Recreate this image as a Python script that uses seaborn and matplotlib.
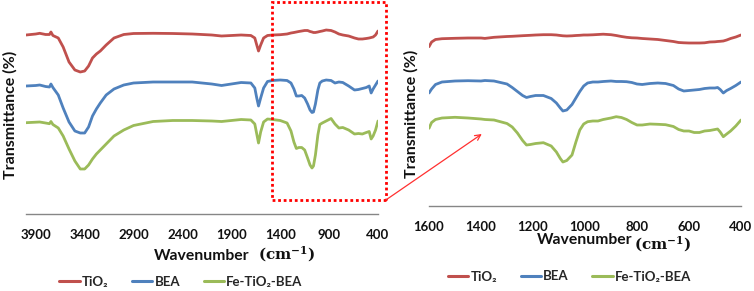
import numpy as np
import pandas as pd
import matplotlib
matplotlib.use("Agg")
import matplotlib.pyplot as plt
import seaborn as sns
from matplotlib.patches import Rectangle, ConnectionPatch
from matplotlib.lines import Line2D

# ---------------- data ----------------
series_names = ["TiO₂", "BEA", "Fe-TiO₂-BEA"]
series_colors = ["#C0504D", "#4F81BD", "#9BBB59"]

# full-range spectrum (left panel)
wn_full = [4000, 3900, 3860, 3800, 3760, 3745, 3725, 3670, 3620, 3560, 3500, 3445,
           3400, 3360, 3320, 3280, 3240, 3180, 3100, 3000, 2900, 2700, 2500, 2300,
           2100, 2000, 1900, 1800, 1700, 1660, 1640, 1622, 1600, 1570, 1530, 1480,
           1400, 1330, 1290, 1260, 1235, 1210, 1180, 1150, 1120, 1095, 1075, 1060,
           1040, 1015, 995, 970, 930, 880, 840, 800, 760, 700, 640, 600, 560, 520,
           490, 470, 450, 425, 400]
tio2_full = [179, 180, 180.7, 179.5, 179.5, 182, 178.5, 176, 167, 152, 144, 142,
             143, 148, 156, 160, 163, 169, 176, 179.5, 180.5, 180.7, 180.5, 180,
             179, 178, 178.5, 179, 178.5, 176, 169, 163, 169, 176, 178.5, 179,
             179.3, 180, 181, 181.5, 182, 182.5, 183, 183.5, 183.5, 182.5, 182, 181.5,
             181.5, 182, 182.5, 183, 184, 183.5, 182, 180, 179, 178, 176, 175, 175, 175.5,
             176, 176.5, 177, 179, 183]
bea_full = [128, 128.5, 129, 127.5, 127, 130, 126.5, 119, 106, 92, 83, 81,
            81, 87, 98, 105, 111, 119, 125, 129, 131, 132, 132, 132,
            130, 128.5, 130, 131.5, 131, 126, 116, 108, 116, 126, 132.5, 133.5,
            134, 133.5, 131, 125, 118, 118, 118.5, 116, 110, 104, 101.5, 102,
            110, 124, 131, 133, 134, 133.5, 131, 132, 131.5, 128, 124, 124.5, 125.5, 126.5,
            128, 121, 125, 129, 133]
fe_full = [91.3, 91.8, 92, 91, 90.3, 92.5, 89.5, 86, 78, 65, 53, 45,
           45, 49, 55, 60, 64, 70, 78, 84, 88.5, 92.5, 93.5, 93.5,
           93, 92.5, 93.5, 94.5, 94, 90, 80, 71, 82, 92, 95, 94.5,
           93.5, 91, 83, 72, 65.5, 66.5, 66.5, 64, 56, 49, 46, 48,
           59, 79, 89.5, 91, 93, 95.5, 90, 86, 86.5, 84, 80, 80.5, 80, 81.5,
           82.5, 75, 78, 84, 93]

# zoomed spectrum 1600-400 (right panel)
wn_zoom = [1600, 1590, 1575, 1550, 1500, 1450, 1400, 1385, 1350, 1300, 1280, 1260,
           1240, 1225, 1210, 1190, 1160, 1130, 1110, 1095, 1085, 1070, 1050, 1035,
           1020, 1005, 990, 970, 950, 930, 900, 880, 860, 840, 820, 800, 780, 750,
           720, 690, 660, 640, 620, 600, 580, 560, 540, 520, 500, 490, 480, 468,
           455, 440, 420, 400]
tio2_zoom = [159.3, 164, 166.5, 167.3, 167.7, 168, 168, 167.6, 168.7, 169.5, 169.7, 170,
             170.3, 170.5, 170.7, 171, 171.3, 171.3, 171, 170.5, 170.2, 170, 170.2, 170.5,
             170.7, 171, 171, 171.2, 171.5, 171.8, 171.3, 170.5, 169.5, 168.7, 168.2, 168,
             167.5, 167, 166.5, 165.5, 164.5, 163.5, 163.2, 163, 163, 163, 163.2, 164,
             164.2, 164.5, 164.7, 165, 166, 167.5, 169, 171]
bea_zoom = [113, 117, 121.5, 124, 125, 125.3, 125, 125.5, 125, 122, 118.5, 114.5,
            110.5, 108.5, 109.5, 110.5, 110.5, 107.5, 103, 98, 95, 96, 101.5, 108,
            114.5, 120, 123, 124, 124, 124.5, 125, 124.5, 124.5, 124.3, 123.5, 122,
            121.5, 122.5, 123, 122.5, 120.5, 117, 115, 115.5, 116, 116.5, 117.5, 118,
            118, 118.5, 116.5, 113, 115.5, 117.5, 120.5, 124]
fe_zoom = [77.7, 83.5, 86.5, 88, 88.7, 88, 87, 86.5, 86, 82.5, 79, 73,
           65.5, 61, 61.5, 62.5, 63.3, 60, 54, 47.5, 44, 45.5, 51, 64,
           76, 82, 84.3, 85, 85, 86.5, 88, 89.3, 88.5, 86.5, 83.5, 81,
           81, 82, 81.7, 81.3, 79.5, 76.5, 75, 75, 73.5, 73.5, 75, 75.5,
           76.5, 77, 74, 69.3, 72, 75, 80, 86]

ticks_full = [3900, 3400, 2900, 2400, 1900, 1400, 900, 400]
ticks_zoom = [1600, 1400, 1200, 1000, 800, 600, 400]


def long_frame(wn, values):
    frames = []
    for name, v in zip(series_names, values):
        frames.append(pd.DataFrame({"wn": wn, "T": v, "sample": name}))
    return pd.concat(frames, ignore_index=True)


df_full = long_frame(wn_full, [tio2_full, bea_full, fe_full])
df_zoom = long_frame(wn_zoom, [tio2_zoom, bea_zoom, fe_zoom])

# ---------------- style ----------------
sns.set_theme(style="white")
plt.rcParams["font.family"] = ["Lato", "DejaVu Sans"]
plt.rcParams["font.weight"] = "bold"

W, H = 754, 291
fig = plt.figure(figsize=(W / 100, H / 100), dpi=100)


def px_axes(x0, x1, ytop, ybot):
    return fig.add_axes([x0 / W, 1 - ybot / H, (x1 - x0) / W, (ybot - ytop) / H])


ax1 = px_axes(26, 378, 0, 214)
ax2 = px_axes(429, 741, 0, 206)

palette = dict(zip(series_names, series_colors))
for ax, df in ((ax1, df_full), (ax2, df_zoom)):
    sns.lineplot(data=df, x="wn", y="T", hue="sample", palette=palette,
                 estimator=None, linewidth=2.0, ax=ax, legend=False)

axis_grey = "#868686"
for ax, xlim, ylim, ticks in ((ax1, (4000, 400), (0, 214), ticks_full),
                              (ax2, (1600, 400), (0, 206), ticks_zoom)):
    ax.set_xlim(*xlim)
    ax.set_ylim(*ylim)
    ax.set_xticks(ticks)
    ax.set_xticklabels([str(t) for t in ticks])
    ax.set_yticks([])
    for s in ("top", "right", "left"):
        ax.spines[s].set_visible(False)
    ax.spines["bottom"].set_color(axis_grey)
    ax.spines["bottom"].set_linewidth(1.0)
    ax.tick_params(axis="x", direction="out", length=4, width=0.9,
                   color=axis_grey, pad=6.5, labelsize=9.5, labelcolor="#111111")
    for lab in ax.get_xticklabels():
        lab.set_fontweight("bold")
    ax.set_facecolor("none")
    ax.set_ylabel("Transmittance (%)", fontsize=11.5, fontweight="bold", color="#111111")
    ax.set_xlabel("Wavenumber", fontsize=11.3, fontweight="bold", color="#111111")
    ax.xaxis.label.set_va("center")
    ax.yaxis.label.set_va("center")

ax1.yaxis.set_label_coords((10 - 26) / 352, (214 - 115) / 214)
ax1.xaxis.set_label_coords(0.5, -(256.5 - 214) / 214)
ax2.yaxis.set_label_coords((411.5 - 429) / 312, (206 - 114) / 206)
ax2.xaxis.set_label_coords(0.5, -(240.5 - 206) / 206)

# unit labels in a serif math font
for (px, py) in ((286.5, 254.5), (663, 244.5)):
    fig.text(px / W, 1 - py / H, r"$\mathbf{(cm^{-1})}$", fontsize=11,
             ha="center", va="center", math_fontfamily="dejavuserif", color="#111111")

# legends
handles = [Line2D([0], [0], color=c, lw=2.2) for c in series_colors]
for cx, cy in ((181, 282), (569.5, 276.5)):
    fig.legend(handles, series_names, loc="center", ncol=3, frameon=False,
               bbox_to_anchor=(cx / W, 1 - cy / H),
               handlelength=1.55, handletextpad=0.15, columnspacing=1.8,
               prop={"weight": "bold", "size": 9.5})

# dotted zoom box and arrow
rect = Rectangle((320, 14), 1160, 198.3, fill=False, edgecolor="#FF0000",
                 linestyle=(0, (1, 1)), linewidth=2.0, clip_on=False, zorder=5)
ax1.add_patch(rect)
con = ConnectionPatch(xyA=(320, 14), coordsA=ax1.transData,
                      xyB=(1397, 72), coordsB=ax2.transData,
                      arrowstyle="->", color="#FF3030", lw=0.9,
                      mutation_scale=10, zorder=6)
fig.add_artist(con)

fig.savefig("out.png", dpi=100)
